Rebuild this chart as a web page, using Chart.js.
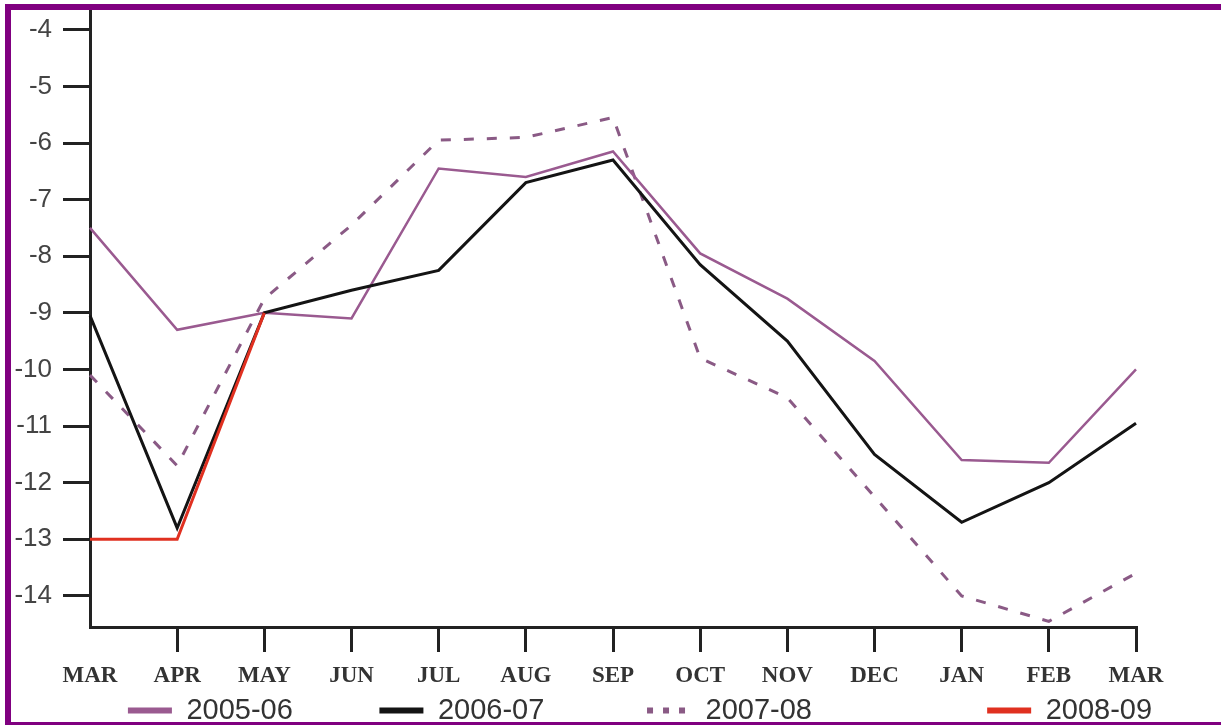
<!DOCTYPE html>
<html>
<head>
<meta charset="utf-8">
<script src="https://cdn.jsdelivr.net/npm/chart.js@4.4.1/dist/chart.umd.min.js"></script>
<style>
html,body{margin:0;padding:0;background:#fff;overflow:hidden;width:1221px;height:725px;}
#wrap{position:relative;width:1221px;height:725px;overflow:hidden;background:#fff;}
#c{position:absolute;left:0;top:0;}
#frame{position:absolute;left:5px;top:4px;width:1216px;height:721px;box-sizing:border-box;
  border-left:6px solid #800080;border-top:6px solid #800080;border-bottom:3px solid #800080;pointer-events:none;}
</style>
</head>
<body>
<div id="wrap">
  <canvas id="c" width="1280" height="735"></canvas>
  <div id="frame"></div>
</div>
<script>
// ---- data ----
const months = ['MAR','APR','MAY','JUN','JUL','AUG','SEP','OCT','NOV','DEC','JAN','FEB','MAR'];
const yTicks = [-4,-5,-6,-7,-8,-9,-10,-11,-12,-13,-14];
const seriesNames = ['2005-06','2006-07','2007-08','2008-09'];
const s0506 = [-7.5, -9.3, -9.0, -9.1, -6.45, -6.6, -6.15, -7.95, -8.75, -9.85, -11.6, -11.65, -10.0];
const s0607 = [-9.05, -12.8, -9.0, -8.6, -8.25, -6.7, -6.3, -8.15, -9.5, -11.5, -12.7, -12.0, -10.95];
const s0708 = [-10.1, -11.7, -8.75, -7.45, -5.95, -5.9, -5.55, -9.8, -10.5, -12.25, -14.0, -14.45, -13.6];
const s0809 = [-13.0, -13.0, -9.0, null, null, null, null, null, null, null, null, null, null];

// ---- styling ----
const colors = ['#9a5a90', '#141414', '#8a5a85', '#e03020'];
const legendTrail = [10, 12, 21, 0];

const datasets = [
  {label: seriesNames[0], data: s0506, borderColor: colors[0], backgroundColor: colors[0], borderWidth: 2.5, order: 2},
  {label: seriesNames[1], data: s0607, borderColor: colors[1], backgroundColor: colors[1], borderWidth: 3, order: 1},
  {label: seriesNames[2], data: s0708, borderColor: colors[2], backgroundColor: colors[2], borderWidth: 3, borderDash: [10, 13], order: 3},
  {label: seriesNames[3], data: s0809, borderColor: colors[3], backgroundColor: colors[3], borderWidth: 3, order: 0}
];
datasets.forEach(d => { d.pointRadius = 0; d.tension = 0; d.fill = false; d.spanGaps = false; });

new Chart(document.getElementById('c'), {
  type: 'line',
  data: {labels: months, datasets},
  options: {
    responsive: false,
    animation: false,
    devicePixelRatio: 1,
    layout: {padding: {left: 0, top: 10, right: 0, bottom: 0}},
    scales: {
      x: {
        type: 'category',
        offset: false,
        afterFit: s => { s.height = 63; },
        border: {display: true, color: '#222', width: 3},
        grid: {drawOnChartArea: false, drawTicks: true, tickLength: 25, lineWidth: 3, color: '#222',
               tickColor: c => c.index === 0 ? 'rgba(0,0,0,0)' : '#222'},
        ticks: {font: {family: 'Liberation Serif', size: 23, weight: 'bold'}, color: '#333',
                padding: 10, autoSkip: false, maxRotation: 0, minRotation: 0}
      },
      y: {
        type: 'linear', position: 'left', min: -14.55, max: -3.65,
        afterBuildTicks: s => { s.ticks = yTicks.map(v => ({value: v})); },
        afterFit: s => { s.width = 90; s.paddingTop = 0; s.paddingBottom = 0; },
        border: {display: true, color: '#222', width: 3},
        grid: {drawOnChartArea: false, drawTicks: true, tickLength: 27, color: '#222', lineWidth: 3},
        ticks: {font: {family: 'Liberation Sans', size: 26}, color: '#444', padding: 11}
      },
      y2: {
        type: 'linear', position: 'right', display: true,
        grid: {display: false, drawTicks: false},
        border: {display: false},
        ticks: {display: false},
        afterFit: s => { s.width = 144; s.paddingTop = 0; s.paddingBottom = 0; }
      }
    },
    plugins: {
      tooltip: {enabled: false},
      title: {display: false},
      legend: {
        display: true,
        position: 'bottom',
        labels: {
          usePointStyle: true,
          pointStyleWidth: 44,
          boxHeight: 6,
          padding: 6,
          color: '#333',
          font: {family: 'Liberation Sans', size: 29},
          generateLabels: chart => chart.data.datasets.map((ds, i) => ({
            text: ds.label + ' '.repeat(legendTrail[i]),
            fillStyle: ds.borderColor,
            strokeStyle: ds.borderColor,
            lineWidth: 6,
            lineDash: ds.borderDash ? [6, 10] : [],
            pointStyle: 'line',
            hidden: false,
            datasetIndex: i,
            fontColor: '#333'
          }))
        }
      }
    }
  }
});
</script>
</body>
</html>
